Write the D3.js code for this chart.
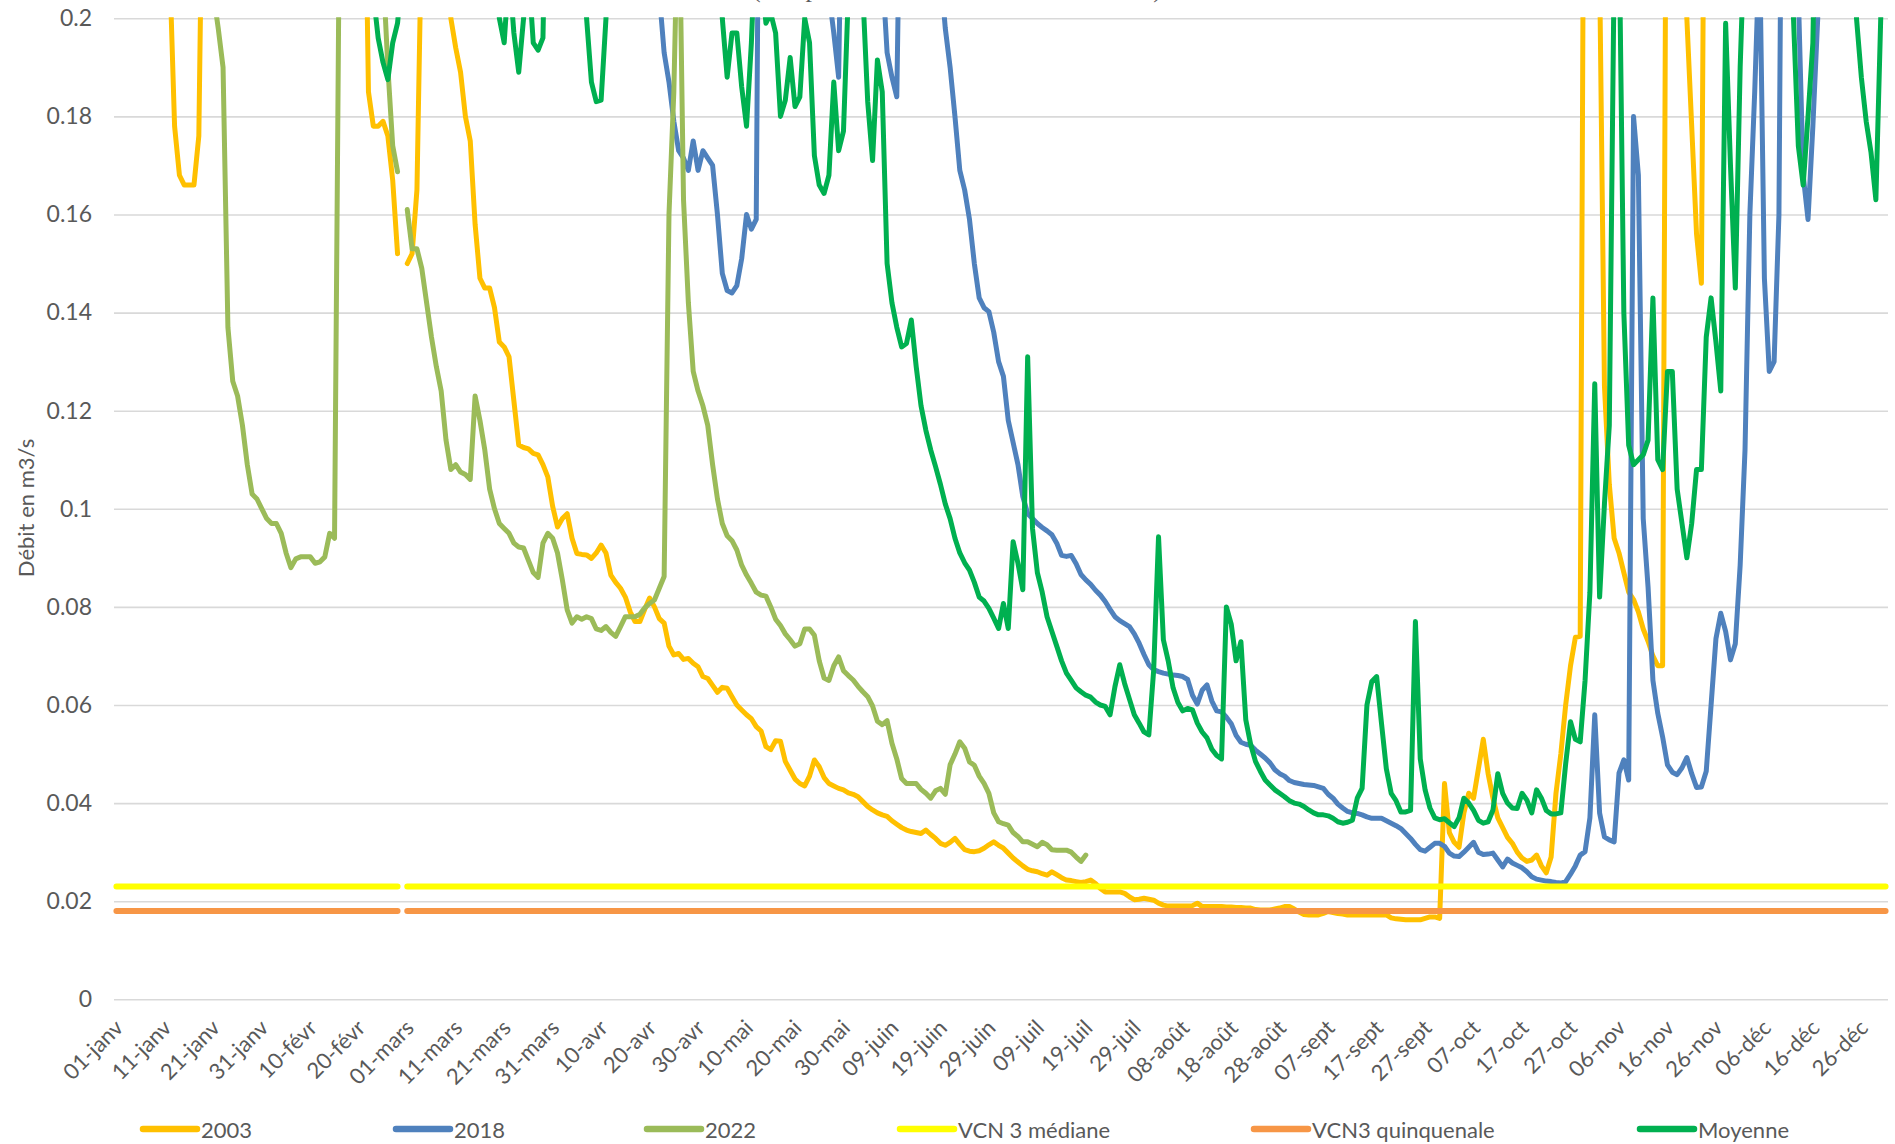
<!DOCTYPE html>
<html><head><meta charset="utf-8">
<script src="https://cdn.jsdelivr.net/npm/d3@7"></script>
<style>
html,body{margin:0;padding:0;background:#ffffff;}
svg{display:block;font-family:Lato,"Open Sans","Noto Sans",sans-serif;}
</style>
</head><body>
<svg id="chart" width="1895" height="1144"></svg>
<script>
// ---------- DATA ----------
const monthNames = ["janv","févr","mars","avr","mai","juin","juil","août","sept","oct","nov","déc"];
const monthDays  = [31,29,31,30,31,30,31,31,30,31,30,31];
const categories = [];
monthNames.forEach((m,k)=>{ for(let d=1; d<=monthDays[k]; d++) categories.push(String(d).padStart(2,"0")+"-"+m); });

const tickLabels = ["01-janv","11-janv","21-janv","31-janv","10-févr","20-févr","01-mars","11-mars","21-mars","31-mars",
  "10-avr","20-avr","30-avr","10-mai","20-mai","30-mai","09-juin","19-juin","29-juin","09-juil","19-juil","29-juil",
  "08-août","18-août","28-août","07-sept","17-sept","27-sept","07-oct","17-oct","27-oct","06-nov","16-nov","26-nov",
  "06-déc","16-déc","26-déc"];
const yTicks = [0,0.02,0.04,0.06,0.08,0.1,0.12,0.14,0.16,0.18,0.2];

// values above 0.2 are off the chart (clipped); they are rough estimates
const s2003 = [
0.3,0.3,0.3,0.3,0.3,0.3,0.3,0.3,0.3,0.3,
0.3,0.21,0.178,0.168,0.166,0.166,0.166,0.176,0.25,0.3,
0.3,0.3,0.3,0.3,0.3,0.3,0.3,0.3,0.3,0.3,
0.3,0.3,0.3,0.3,0.3,0.3,0.3,0.3,0.3,0.3,
0.3,0.3,0.3,0.3,0.3,0.3,0.3,0.3,0.3,0.3,
0.3,0.25,0.185,0.178,0.178,0.179,0.176,0.167,0.152,null,
0.150,0.152,0.165,0.22,0.3,0.3,0.3,0.3,0.25,0.2,
0.194,0.189,0.180,0.175,0.158,0.147,0.145,0.145,0.141,0.134,
0.133,0.131,0.122,0.113,0.1125,0.1122,0.1113,0.111,0.109,0.1065,
0.1005,0.0963,0.098,0.099,0.094,0.0909,0.0907,0.0906,0.0899,0.091,
0.0926,0.091,0.0865,0.085,0.0838,0.082,0.079,0.077,0.077,0.0795,
0.0818,0.080,0.0776,0.0767,0.072,0.0702,0.0705,0.0693,0.0695,0.0685,
0.0678,0.0658,0.0654,0.064,0.0626,0.0636,0.0634,0.0617,0.060,0.059,
0.058,0.0572,0.0556,0.0547,0.0515,0.0509,0.0527,0.0526,0.0485,0.0467,
0.0449,0.0440,0.0435,0.0455,0.0488,0.0474,0.0452,0.0440,0.0435,0.0430,
0.0427,0.0421,0.0418,0.0413,0.0403,0.0393,0.0386,0.0380,0.0376,0.0373,
0.0364,0.0357,0.0350,0.0345,0.0342,0.0340,0.0338,0.0345,0.0336,0.0328,
0.0318,0.0314,0.0320,0.0328,0.0316,0.0305,0.0302,0.0301,0.0303,0.0308,
0.0315,0.0321,0.0314,0.0308,0.0298,0.0288,0.0280,0.0272,0.0265,0.0262,
0.0260,0.0256,0.0253,0.0260,0.0254,0.0248,0.0243,0.0242,0.0240,0.0238,
0.0240,0.0243,0.0236,0.0226,0.0219,0.0219,0.0219,0.0219,0.0216,0.0209,
0.0203,0.0204,0.0206,0.0204,0.0202,0.0196,0.0192,0.0190,0.0190,0.0190,
0.0190,0.0190,0.0191,0.0196,0.0189,0.0189,0.0189,0.0189,0.0189,0.0188,
0.0188,0.0187,0.0187,0.0186,0.0186,0.0183,0.0182,0.0182,0.0182,0.0184,
0.0186,0.0189,0.0189,0.0184,0.0178,0.0173,0.0172,0.0172,0.0172,0.0175,
0.0179,0.0177,0.0175,0.0174,0.0172,0.0172,0.0172,0.0172,0.0172,0.0172,
0.0172,0.0172,0.0172,0.0166,0.0164,0.0163,0.0162,0.0162,0.0162,0.0162,
0.0165,0.0168,0.0168,0.0165,0.044,0.034,0.032,0.031,0.038,0.042,
0.041,0.047,0.053,0.046,0.041,0.037,0.035,0.033,0.0318,0.0300,
0.0288,0.0281,0.0284,0.0294,0.0272,0.0258,0.0290,0.042,0.050,0.060,
0.068,0.0738,0.074,0.3,0.3,0.3,0.21,0.125,0.105,0.094,
0.091,0.087,0.083,0.0815,0.079,0.0755,0.073,0.070,0.068,0.068,
0.3,0.3,0.3,0.3,0.2,0.178,0.156,0.146,0.3,0.3,
0.3,0.3,0.3,0.3,0.3,0.3,0.3,0.3,0.3,0.3,
0.3,0.3,0.3,0.3,0.3,0.3,0.3,0.3,0.3,0.3,
0.3,0.3,0.3,0.3,0.3,0.3,0.3,0.3,0.3,0.3,
0.3,0.3,0.3,0.3,0.3,0.3];

const s2018 = [
0.3,0.3,0.3,0.3,0.3,0.3,0.3,0.3,0.3,0.3,
0.3,0.3,0.3,0.3,0.3,0.3,0.3,0.3,0.3,0.3,
0.3,0.3,0.3,0.3,0.3,0.3,0.3,0.3,0.3,0.3,
0.3,0.3,0.3,0.3,0.3,0.3,0.3,0.3,0.3,0.3,
0.3,0.3,0.3,0.3,0.3,0.3,0.3,0.3,0.3,0.3,
0.3,0.3,0.3,0.3,0.3,0.3,0.3,0.3,0.3,null,
0.3,0.3,0.3,0.3,0.3,0.3,0.3,0.3,0.3,0.3,
0.3,0.3,0.3,0.3,0.3,0.3,0.3,0.3,0.3,0.3,
0.3,0.3,0.3,0.3,0.3,0.3,0.3,0.3,0.3,0.3,
0.3,0.3,0.3,0.3,0.3,0.3,0.3,0.3,0.3,0.3,
0.3,0.3,0.3,0.3,0.3,0.3,0.3,0.3,0.3,0.3,
0.3,0.25,0.205,0.193,0.187,0.179,0.173,0.1715,0.169,0.175,
0.169,0.173,0.1715,0.170,0.160,0.148,0.1445,0.144,0.1455,0.151,
0.160,0.157,0.159,0.3,0.3,0.3,0.3,0.3,0.3,0.3,
0.3,0.3,0.3,0.3,0.3,0.3,0.3,0.205,0.197,0.188,
0.25,0.3,0.3,0.3,0.3,0.3,0.3,0.3,0.21,0.193,
0.188,0.184,0.25,0.3,0.3,0.3,0.3,0.3,0.3,0.3,
0.21,0.198,0.190,0.180,0.169,0.165,0.159,0.150,0.143,0.141,
0.1402,0.136,0.130,0.127,0.118,0.1135,0.109,0.1025,0.099,0.098,
0.097,0.0962,0.0955,0.0947,0.093,0.0905,0.0903,0.0905,0.0888,0.0866,
0.0855,0.0846,0.0834,0.0824,0.0811,0.0795,0.0780,0.0772,0.0766,0.0760,
0.0745,0.0726,0.0703,0.0682,0.0672,0.0668,0.0665,0.0663,0.0661,0.0660,
0.0658,0.0652,0.0620,0.0602,0.0630,0.0641,0.0608,0.0588,0.0586,0.0575,
0.0562,0.0538,0.0524,0.0520,0.0518,0.0508,0.0500,0.0492,0.0482,0.0468,
0.0460,0.0455,0.0446,0.0442,0.0440,0.0438,0.0437,0.0436,0.0433,0.0430,
0.0418,0.0410,0.0398,0.0390,0.0383,0.0380,0.0379,0.0376,0.0372,0.0369,
0.0369,0.0369,0.0364,0.0359,0.0354,0.0348,0.0338,0.0328,0.0316,0.0305,
0.0302,0.0310,0.0318,0.0318,0.0312,0.0298,0.0292,0.0291,0.0300,0.0310,
0.0320,0.0300,0.0295,0.0296,0.0298,0.0284,0.0270,0.0286,0.0278,0.0273,
0.0268,0.0260,0.0250,0.0245,0.0243,0.0241,0.0240,0.0238,0.0237,0.0240,
0.0255,0.0272,0.0294,0.0301,0.0370,0.0580,0.0380,0.0331,0.0325,0.0321,
0.0461,0.0488,0.0447,0.180,0.168,0.098,0.084,0.065,0.0583,0.0535,
0.0478,0.0463,0.0458,0.0472,0.0493,0.0460,0.0432,0.0433,0.0465,0.0600,
0.0735,0.0787,0.0750,0.0692,0.0725,0.0885,0.112,0.160,0.185,0.215,
0.147,0.128,0.130,0.160,0.3,0.3,0.3,0.205,0.168,0.159,
0.178,0.200,0.3,0.3,0.3,0.3,0.3,0.3,0.3,0.3,
0.3,0.3,0.3,0.3,0.3,0.3];

const s2022 = [
0.3,0.3,0.3,0.3,0.3,0.3,0.3,0.3,0.3,0.3,
0.3,0.3,0.3,0.3,0.3,0.3,0.3,0.3,0.3,0.3,
0.205,0.198,0.190,0.137,0.126,0.123,0.117,0.109,0.103,0.102,
0.100,0.098,0.097,0.097,0.095,0.091,0.088,0.0898,0.0902,0.0902,
0.0902,0.0889,0.0892,0.0902,0.095,0.094,0.22,0.3,0.3,0.3,
0.3,0.3,0.3,0.3,0.3,0.21,0.19,0.174,0.1687,null,
0.161,0.153,0.153,0.149,0.142,0.135,0.129,0.124,0.114,0.108,
0.109,0.1075,0.107,0.106,0.123,0.118,0.112,0.104,0.100,0.097,
0.096,0.095,0.093,0.0922,0.092,0.0895,0.087,0.086,0.093,0.095,
0.094,0.091,0.0855,0.0794,0.0767,0.078,0.0775,0.078,0.0776,0.0755,
0.0752,0.076,0.0748,0.074,0.076,0.078,0.078,0.078,0.0785,0.0798,
0.0807,0.0814,0.0838,0.0862,0.160,0.185,0.23,0.163,0.142,0.128,
0.124,0.121,0.117,0.109,0.102,0.097,0.0945,0.0935,0.0916,0.0885,
0.0865,0.0848,0.083,0.0824,0.0822,0.080,0.0775,0.0762,0.0745,0.0733,
0.072,0.0725,0.0755,0.0755,0.0742,0.069,0.0655,0.065,0.068,0.0698,
0.067,0.066,0.0651,0.0638,0.0627,0.0617,0.0598,0.0567,0.0560,0.0568,
0.0522,0.0490,0.0450,0.0440,0.0440,0.0440,0.0428,0.0420,0.0410,0.0425,
0.0430,0.0418,0.0478,0.0500,0.0525,0.0512,0.0484,0.0477,0.0455,0.0440,
0.0420,0.0380,0.0362,0.0358,0.0355,0.0340,0.0332,0.0321,0.0321,0.0316,
0.0311,0.0320,0.0315,0.0305,0.0304,0.0304,0.0304,0.0300,0.0290,0.0281,
0.0294];

const sMoyenne = [
0.3,0.3,0.3,0.3,0.3,0.3,0.3,0.3,0.3,0.3,
0.3,0.3,0.3,0.3,0.3,0.3,0.3,0.3,0.3,0.3,
0.3,0.3,0.3,0.3,0.3,0.3,0.3,0.3,0.3,0.3,
0.3,0.3,0.3,0.3,0.3,0.3,0.3,0.3,0.3,0.3,
0.3,0.3,0.3,0.3,0.3,0.3,0.3,0.3,0.3,0.3,
0.3,0.3,0.25,0.205,0.196,0.191,0.1875,0.195,0.199,0.21,
0.3,0.3,0.3,0.3,0.3,0.3,0.3,0.3,0.3,0.3,
0.3,0.3,0.3,0.3,0.3,0.3,0.3,0.3,0.25,0.2,
0.195,0.21,0.197,0.189,0.2,0.21,0.195,0.1935,0.196,0.25,
0.3,0.3,0.3,0.3,0.3,0.3,0.23,0.2,0.187,0.183,
0.1833,0.2,0.3,0.3,0.3,0.3,0.3,0.3,0.3,0.3,
0.3,0.3,0.3,0.3,0.3,0.3,0.3,0.3,0.3,0.3,
0.3,0.3,0.3,0.25,0.22,0.2,0.188,0.197,0.197,0.186,
0.178,0.195,0.22,0.21,0.199,0.201,0.197,0.180,0.1833,0.192,
0.182,0.184,0.2,0.195,0.172,0.166,0.1643,0.168,0.187,0.173,
0.177,0.205,0.25,0.25,0.205,0.183,0.171,0.1915,0.185,0.150,
0.142,0.137,0.133,0.1337,0.1385,0.129,0.121,0.116,0.112,0.1086,
0.105,0.101,0.098,0.094,0.091,0.089,0.0875,0.085,0.082,0.0812,
0.0797,0.0777,0.0756,0.0807,0.0756,0.0933,0.0889,0.0835,0.131,0.096,
0.087,0.083,0.078,0.075,0.072,0.069,0.0665,0.065,0.0635,0.0627,
0.062,0.0616,0.0606,0.060,0.0597,0.058,0.0637,0.0682,0.0644,0.0612,
0.058,0.0563,0.0545,0.0539,0.0671,0.0943,0.0733,0.069,0.0635,0.0605,
0.0588,0.0593,0.059,0.0563,0.0545,0.0533,0.051,0.0497,0.049,0.080,
0.0765,0.069,0.0729,0.057,0.052,0.0485,0.0465,0.0447,0.0437,0.0427,
0.042,0.0413,0.0405,0.040,0.0398,0.0393,0.0386,0.038,0.0376,0.0376,
0.0374,0.0369,0.0362,0.0359,0.0361,0.0365,0.041,0.043,0.060,0.0648,
0.0658,0.0563,0.047,0.042,0.0405,0.0382,0.0382,0.0385,0.077,0.049,
0.0427,0.039,0.037,0.0366,0.0368,0.036,0.0352,0.037,0.041,0.040,
0.0385,0.0365,0.0359,0.0362,0.0386,0.046,0.042,0.040,0.039,0.0389,
0.042,0.0406,0.038,0.0427,0.041,0.0385,0.0378,0.0378,0.038,0.048,
0.0566,0.053,0.0525,0.065,0.083,0.1255,0.082,0.101,0.117,0.21,
0.22,0.14,0.113,0.109,0.110,0.111,0.114,0.143,0.110,0.108,
0.128,0.128,0.104,0.097,0.090,0.097,0.108,0.108,0.135,0.143,
0.134,0.124,0.199,0.170,0.145,0.190,0.22,0.3,0.3,0.3,
0.3,0.3,0.3,0.3,0.3,0.25,0.2,0.174,0.166,0.18,
0.195,0.25,0.3,0.3,0.3,0.3,0.3,0.3,0.25,0.2,
0.188,0.179,0.1726,0.163,0.2,0.3];

// reference thresholds (constant lines, no value on 29-févr)
const vcnMediane = 0.023;
const vcnQuinquenale = 0.018;
const gapDay = "29-févr";

const seriesNames  = ["2003","2018","2022","VCN 3 médiane","VCN3 quinquenale","Moyenne"];
const seriesColors = ["#FFC000","#4F81BD","#9BBB59","#FFFF00","#F79646","#00B050"];

// ---------- LAYOUT ----------
const plot = {left:114, right:1888, top:18.3, bottom:999.3};
const svg = d3.select("#chart");

const x = d3.scaleBand().domain(d3.range(categories.length)).range([plot.left, plot.right]).paddingInner(0).paddingOuter(0);
const xc = i => x(i) + x.bandwidth()/2;
const y = d3.scaleLinear().domain([0,0.2]).range([plot.bottom, plot.top]);

// title fragment (mostly outside the picture, as in the reference)
svg.append("text").attr("x",957).attr("y",-3).attr("text-anchor","middle")
  .attr("font-family","'Liberation Serif','DejaVu Serif',serif").attr("font-size",26).attr("fill","#595959")
  .text("(comparaison aux valeurs de référence)");

// gridlines + y labels
const yAxis = d3.axisLeft(y).tickValues(yTicks).tickSize(-(plot.right-plot.left)).tickPadding(22)
  .tickFormat(d => String(+d.toFixed(2)));
const gy = svg.append("g").attr("transform",`translate(${plot.left},0)`).call(yAxis);
gy.select(".domain").remove();
gy.selectAll(".tick line").attr("stroke","#D9D9D9").attr("stroke-width",1.6);
gy.selectAll(".tick text").attr("fill","#595959").attr("font-size",23).attr("font-family","Lato,'Open Sans',sans-serif");

// x labels
const gx = svg.append("g");
tickLabels.forEach(lbl => {
  const i = categories.indexOf(lbl);
  gx.append("text")
    .attr("transform",`translate(${xc(i)+8},${plot.bottom+30}) rotate(-45)`)
    .attr("text-anchor","end").attr("font-size",22).attr("fill","#595959")
    .text(lbl);
});

// y title
svg.append("text").attr("transform","translate(25,508) rotate(-90)")
  .attr("text-anchor","middle").attr("dominant-baseline","central")
  .attr("font-size",22).attr("fill","#595959").text("Débit en m3/s");

// clip
svg.append("defs").append("clipPath").attr("id","clip")
  .append("rect").attr("x",plot.left-10).attr("y",plot.top-1).attr("width",plot.right-plot.left+20).attr("height",plot.bottom-plot.top+20);

const line = d3.line().defined(d => d.v !== null && d.v !== undefined).x(d => xc(d.i)).y(d => y(d.v));
const toPts = arr => categories.map((c,i) => ({i, v: i < arr.length ? arr[i] : null}));
const constPts = val => categories.map((c,i) => ({i, v: c === gapDay ? null : val}));

const seriesData = [toPts(s2003), toPts(s2018), toPts(s2022), constPts(vcnMediane), constPts(vcnQuinquenale), toPts(sMoyenne)];
const widths = [5,5,5,6,6,5];

const gl = svg.append("g").attr("clip-path","url(#clip)");
seriesData.forEach((pts,k) => {
  gl.append("path").datum(pts).attr("d",line)
    .attr("fill","none").attr("stroke",seriesColors[k]).attr("stroke-width",widths[k])
    .attr("stroke-linejoin","round").attr("stroke-linecap","round");
});

// legend
const legendX = [143,396,647,900,1254,1640];
const legY = 1129;
const gLeg = svg.append("g");
seriesNames.forEach((n,k) => {
  gLeg.append("line").attr("x1",legendX[k]).attr("x2",legendX[k]+54).attr("y1",legY).attr("y2",legY)
    .attr("stroke",seriesColors[k]).attr("stroke-width",6.5).attr("stroke-linecap","round");
  gLeg.append("text").attr("x",legendX[k]+58).attr("y",legY).attr("dominant-baseline","central")
    .attr("font-size",22).attr("fill","#595959").text(n);
});
</script>
</body></html>
